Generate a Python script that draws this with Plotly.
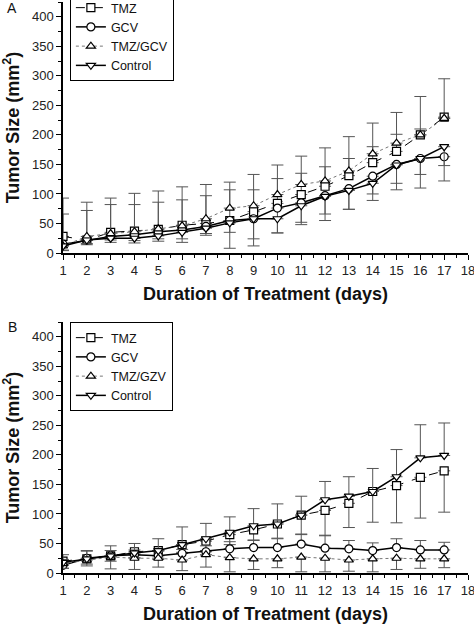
import plotly.graph_objects as go
from plotly.subplots import make_subplots

dias = list(range(1, 18))

# Panel A
a_tmz = [28, 22, 35, 37, 40, 47, 50, 55, 70, 84, 99, 113, 131, 153, 172, 200, 230]
a_gcv = [15, 22, 28, 31, 36, 39, 45, 55, 58, 76, 85, 97, 109, 130, 150, 160, 163]
a_tmzgcv = [12, 28, 33, 36, 41, 46, 58, 76, 80, 99, 116, 122, 139, 168, 186, 200, 228]
a_control = [12, 22, 25, 25, 29, 35, 42, 51, 58, 58, 80, 96, 106, 118, 149, 160, 180]

a_tmz_up = [65, 50, 47, 45, 46, 43, 47, 52, 37, 42, 36, 33, 29, 27, 29, 10, 65]
a_tmzgcv_up = [54, 58, 60, 65, 64, 66, 58, 44, 53, 50, 48, 56, 58, 52, 52, 65, 0]
a_gcv_down = [10, 8, 6, 10, 12, 15, 12, 20, 34, 42, 33, 31, 35, 30, 32, 27, 41]
a_control_down = [8, 6, 7, 8, 9, 17, 12, 43, 46, 24, 32, 41, 32, 29, 42, 50, 32]

# Panel B
b_tmz = [20, 24, 29, 36, 38, 48, 54, 65, 73, 83, 98, 106, 118, 138, 148, 162, 173]
b_gcv = [13, 25, 29, 31, 29, 33, 36, 41, 43, 43, 49, 42, 41, 38, 43, 39, 39]
b_tmzgzv = [16, 22, 27, 25, 25, 22, 31, 26, 24, 24, 27, 25, 22, 24, 25, 24, 24]
b_control = [18, 24, 29, 34, 38, 48, 58, 69, 80, 83, 98, 124, 130, 138, 163, 195, 199]

b_tmz_down = [12, 12, 9, 10, 15, 13, 16, 17, 18, 24, 33, 43, 41, 52, 63, 69, 70]
b_gcv_up = [10, 12, 9, 8, 8, 7, 10, 12, 13, 15, 17, 22, 14, 13, 15, 16, 13]
b_tmzgzv_down = [8, 7, 20, 19, 15, 18, 21, 24, 18, 15, 25, 23, 19, 22, 19, 16, 15]
b_control_up = [13, 14, 17, 16, 20, 30, 26, 26, 29, 34, 32, 31, 33, 39, 46, 56, 55]

nombres_a = ['TMZ', 'GCV', 'TMZ/GCV', 'Control']
nombres_b = ['TMZ', 'GCV', 'TMZ/GZV', 'Control']

estilos = [
    dict(dash='dash', color='black', width=1, symbol='square'),
    dict(dash='solid', color='black', width=1.5, symbol='circle'),
    dict(dash='dot', color='#777777', width=1, symbol='triangle-up'),
    dict(dash='solid', color='black', width=1.5, symbol='triangle-down'),
]

fig = make_subplots(rows=2, cols=1)


def agregar(fila, valores, arriba, abajo, nombre, est, leyenda):
    fig.add_trace(go.Scatter(
        x=dias, y=valores, name=nombre, mode='lines+markers',
        line=dict(color=est['color'], width=est['width'], dash=est['dash']),
        marker=dict(symbol=est['symbol'], size=8, color='white',
                    line=dict(color='black', width=1.2)),
        error_y=dict(type='data', symmetric=False, array=arriba, arrayminus=abajo,
                     color='#555555', thickness=1, width=6),
        legend=leyenda,
    ), row=fila, col=1)


cero = [0] * 17
agregar(1, a_tmz, a_tmz_up, cero, nombres_a[0], estilos[0], 'legend')
agregar(1, a_gcv, cero, a_gcv_down, nombres_a[1], estilos[1], 'legend')
agregar(1, a_tmzgcv, a_tmzgcv_up, cero, nombres_a[2], estilos[2], 'legend')
agregar(1, a_control, cero, a_control_down, nombres_a[3], estilos[3], 'legend')

agregar(2, b_tmz, cero, b_tmz_down, nombres_b[0], estilos[0], 'legend2')
agregar(2, b_gcv, b_gcv_up, cero, nombres_b[1], estilos[1], 'legend2')
agregar(2, b_tmzgzv, cero, b_tmzgzv_down, nombres_b[2], estilos[2], 'legend2')
agregar(2, b_control, b_control_up, cero, nombres_b[3], estilos[3], 'legend2')

fuente = 'Liberation Sans, Arial, sans-serif'

eje_x = dict(
    range=[1, 18], tickmode='array', tickvals=list(range(1, 19)),
    ticks='outside', ticklen=5, tickwidth=1, tickcolor='black',
    showline=True, linecolor='black', linewidth=1.5, showgrid=False, zeroline=False,
    minor=dict(ticks='outside', dtick=0.5, ticklen=3, tickcolor='black'),
    tickfont=dict(size=13, color='#222'), ticklabeloverflow='allow', automargin=False,
    title=dict(text='<b>Duration of Treatment (days)</b>', font=dict(size=18, color='#111'), standoff=10),
)
eje_y = dict(
    range=[0, 425], tickmode='array', tickvals=list(range(0, 401, 50)),
    ticks='outside', ticklen=5, tickwidth=1, tickcolor='black',
    showline=True, linecolor='black', linewidth=1.5, showgrid=False, zeroline=False,
    minor=dict(ticks='outside', dtick=25, ticklen=3, tickcolor='black'),
    tickfont=dict(size=13, color='#222'), automargin=False,
    title=dict(text='<b>Tumor Size (mm<sup>2</sup>)</b>', font=dict(size=18, color='#111'), standoff=10),
)

leyenda_base = dict(
    bgcolor='white', bordercolor='black', borderwidth=1,
    font=dict(family=fuente, size=12.5, color='#111'),
    xanchor='left', yanchor='top', itemwidth=30, tracegroupgap=0,
)

fig.update_layout(
    width=474, height=624,
    margin=dict(l=63, r=6, t=0, b=0, autoexpand=False),
    plot_bgcolor='white', paper_bgcolor='white',
    font=dict(family=fuente, color='#111'),
    showlegend=True,
    xaxis=dict(eje_x, domain=[0, 1]),
    yaxis=dict(eje_y, domain=[1 - 253 / 624, 1 - 2 / 624]),
    xaxis2=dict(eje_x, domain=[0, 1]),
    yaxis2=dict(eje_y, domain=[1 - 573 / 624, 1 - 322 / 624]),
    legend=dict(leyenda_base, x=0.017, y=1 + 8 / 624),
    legend2=dict(leyenda_base, x=0.017, y=1 - 322 / 624),
    annotations=[
        dict(text='A', x=(12 - 63) / 405, y=1 - 8 / 624, xref='paper', yref='paper', xanchor='center',
             yanchor='middle', showarrow=False, font=dict(size=14, color='#111')),
        dict(text='B', x=(12 - 63) / 405, y=1 - 327 / 624, xref='paper', yref='paper', xanchor='center',
             yanchor='middle', showarrow=False, font=dict(size=14, color='#111')),
    ],
)

# quitar el margen del body para que la figura empiece en (0, 0)
fig.write_html("out.html", config={'displayModeBar': False},
               post_script="document.body.style.margin='0';")
